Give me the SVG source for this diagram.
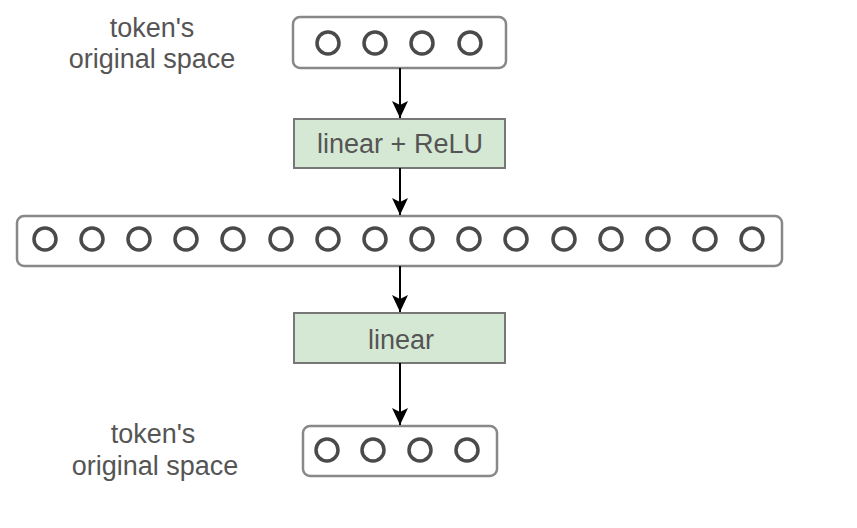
<svg xmlns="http://www.w3.org/2000/svg" width="857" height="528" viewBox="0 0 857 528">
<defs>
<style>
.lbl{font-family:"Liberation Sans",Arial,sans-serif;font-size:27px;fill:#555;text-anchor:middle}
.vec{fill:#fff;stroke:#888;stroke-width:2.5}
.dot{fill:none;stroke:#4a4a4a;stroke-width:3.5}
.layer{fill:#d5e8d4;stroke:#777;stroke-width:2}
.conn{stroke:#000;stroke-width:2;fill:none;marker-end:url(#ah)}
</style>
<marker id="ah" markerUnits="userSpaceOnUse" markerWidth="20" markerHeight="20" viewBox="-18 -10 20 20" refX="0" refY="0" orient="auto">
<path d="M-17,-8 L0,0 L-17,8 L-13,0 Z" fill="#000"/>
</marker>
</defs>
<rect width="857" height="528" fill="#fff"/>
<g id="label-top">
<text class="lbl" x="152" y="37">token's</text>
<text class="lbl" x="152" y="68">original space</text>
</g>
<g id="input-vector">
<rect class="vec" x="293" y="17" width="213" height="51" rx="7"/>
<circle class="dot" cx="328" cy="43" r="11"/>
<circle class="dot" cx="375" cy="43" r="11"/>
<circle class="dot" cx="422" cy="43" r="11"/>
<circle class="dot" cx="470" cy="43" r="11"/>
</g>
<g id="linear-relu">
<rect class="layer" x="294" y="119" width="211" height="49"/>
<text class="lbl" x="400" y="153">linear + ReLU</text>
</g>
<g id="hidden-vector">
<rect class="vec" x="17" y="216" width="765" height="50" rx="7"/>
<circle class="dot" cx="45" cy="239" r="11"/>
<circle class="dot" cx="92" cy="239" r="11"/>
<circle class="dot" cx="139" cy="239" r="11"/>
<circle class="dot" cx="186" cy="239" r="11"/>
<circle class="dot" cx="233" cy="239" r="11"/>
<circle class="dot" cx="281" cy="239" r="11"/>
<circle class="dot" cx="328" cy="239" r="11"/>
<circle class="dot" cx="375" cy="239" r="11"/>
<circle class="dot" cx="422" cy="239" r="11"/>
<circle class="dot" cx="469" cy="239" r="11"/>
<circle class="dot" cx="516" cy="239" r="11"/>
<circle class="dot" cx="564" cy="239" r="11"/>
<circle class="dot" cx="611" cy="239" r="11"/>
<circle class="dot" cx="658" cy="239" r="11"/>
<circle class="dot" cx="705" cy="239" r="11"/>
<circle class="dot" cx="752" cy="239" r="11"/>
</g>
<g id="linear">
<rect class="layer" x="294" y="313" width="211" height="50"/>
<text class="lbl" x="401" y="349">linear</text>
</g>
<g id="output-vector">
<rect class="vec" x="303" y="426" width="194" height="50" rx="7"/>
<circle class="dot" cx="327" cy="450" r="11"/>
<circle class="dot" cx="373" cy="450" r="11"/>
<circle class="dot" cx="420" cy="450" r="11"/>
<circle class="dot" cx="467" cy="450" r="11"/>
</g>
<g id="label-bottom">
<text class="lbl" x="153" y="443">token's</text>
<text class="lbl" x="155" y="475">original space</text>
</g>
<g id="connectors">
<path class="conn" d="M400,68 V118"/>
<path class="conn" d="M400,168 V215"/>
<path class="conn" d="M400,266 V312"/>
<path class="conn" d="M400,363 V425"/>
</g>
</svg>
